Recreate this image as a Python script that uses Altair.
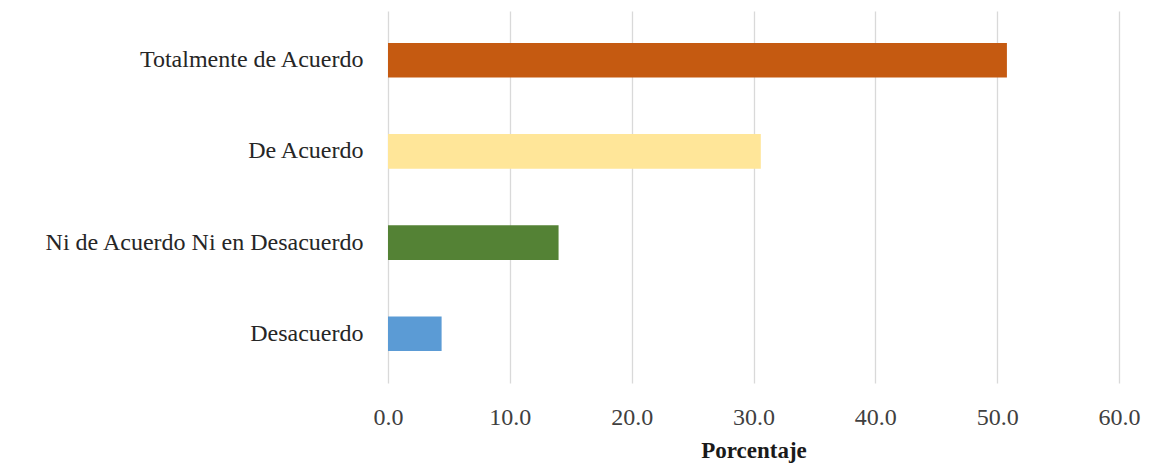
import altair as alt
import pandas as pd

categories = ["Totalmente de Acuerdo", "De Acuerdo", "Ni de Acuerdo Ni en Desacuerdo", "Desacuerdo"]
values = [50.8, 30.6, 14.0, 4.4]
colors = ["#C55A11", "#FFE699", "#548235", "#5B9BD5"]
x_ticks = [0, 10, 20, 30, 40, 50, 60]

df = pd.DataFrame({"categoria": categories, "valor": values})

font = "Liberation Serif"

chart = alt.Chart(df).mark_bar().encode(
    y=alt.Y(
        "categoria:N",
        sort=categories,
        title=None,
        scale=alt.Scale(paddingInner=0.62, paddingOuter=0.35),
        axis=alt.Axis(
            ticks=False, domain=False, grid=False,
            labelFont=font, labelFontSize=24, labelColor="#262626",
            labelPadding=25, labelLimit=400,
        ),
    ),
    x=alt.X(
        "valor:Q",
        title="Porcentaje",
        scale=alt.Scale(domain=[0, 60], nice=False),
        axis=alt.Axis(
            values=x_ticks, format=".1f",
            ticks=False, domain=False, labelFlush=False,
            grid=True, gridColor="#D9D9D9", gridWidth=1.3,
            labelFont=font, labelFontSize=24, labelColor="#404040",
            labelPadding=22,
            titleFont=font, titleFontSize=23, titleFontWeight="bold",
            titleColor="#1a1a1a", titlePadding=10,
        ),
    ),
    color=alt.Color(
        "categoria:N",
        scale=alt.Scale(domain=categories, range=colors),
        legend=None,
    ),
).properties(
    width=731,
    height=372,
    background="white",
    autosize=alt.AutoSizeParams(type="none"),
    padding={"left": 380, "top": 3, "right": 24, "bottom": 85},
).configure_view(strokeWidth=0, stroke=None)

chart.save("out.html", embed_options={"renderer": "svg", "actions": False})
